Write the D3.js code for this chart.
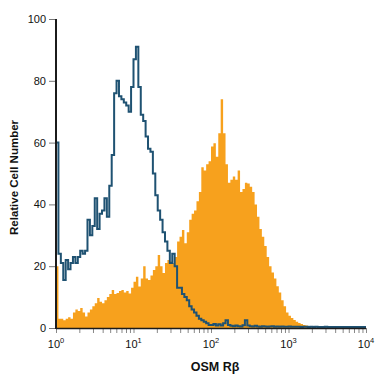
<!DOCTYPE html>
<html>
<head>
<meta charset="utf-8">
<script src="https://cdn.jsdelivr.net/npm/d3@7"></script>
<style>
  body { margin: 0; background: #fff; }
  svg { display: block; font-family: "Liberation Sans", Arial, sans-serif; }
</style>
</head>
<body>
<div id="chart"></div>
<script>
// channels are 1/32 of a decade wide, starting at 10^0
const channelsPerDecade = 32

// isotype control (outline)
const isotype = [60, 24, 21, 15.5, 22, 19, 21, 23, 21, 23,
    25, 24, 25, 35, 30, 33, 42, 32, 37, 38,
    42, 36, 46, 56, 76, 80, 75, 74, 73, 72,
    70, 78, 87, 91, 78, 69, 67, 62, 58, 57,
    50, 43, 38, 35, 31, 28, 25, 21, 24, 20,
    13, 13, 11, 10, 9, 7, 6, 5, 4, 3,
    2.5, 2, 1.5, 1, 1, 1.3, 0.8, 1.2, 0.8, 1.5,
    2.5, 1, 0.7, 0.6, 0.8, 0.6, 0.5, 0.9, 2.5, 0.8,
    0.6, 0.5, 0.7, 0.5, 0.4, 0.6, 0.5, 0.4, 0.5, 0.6,
    0.4, 0.5, 0.4, 0.5, 0.4, 0.4, 0.5, 0.4, 0.4, 0.4,
    0.4, 0.3, 0.4, 0.4, 0.3, 0.4, 0.3, 0.4, 0.3, 0.3,
    0.3, 0.4, 0.3, 0.3, 0.3, 0.3, 0.3, 0.3, 0.3, 0.3,
    0.3, 0.3, 0.3, 0.3, 0.3, 0.3, 0.3, 0.3]

// OSM R beta stained (filled)
const osmRb = [20, 3, 3, 2.5, 3, 3.5, 3, 5, 6, 5.5,
    6.5, 5, 3.7, 5, 6, 7, 8, 9.7, 8.5, 8,
    9, 10, 11, 12.3, 11, 11.3, 12, 12.3, 11.5, 12,
    11.2, 13, 15, 16.6, 13.4, 16, 20, 16, 15.5, 17,
    18.8, 20, 23.6, 20, 17.8, 21, 22, 21.5, 21, 23,
    28, 29.5, 31.7, 27.4, 31, 35, 37, 38, 41, 44,
    52, 51, 53, 54, 58.7, 59.8, 55.4, 63, 74, 63,
    53, 47, 48, 49, 48, 51, 44, 45, 47, 46.8,
    45.7, 44, 40, 36, 32, 29.5, 26.5, 23, 20, 18,
    16, 13.5, 11.5, 9, 7, 5, 4, 3.2, 2.6, 2,
    1.6, 1.3, 1, 0.8, 0.4, 0.2]

const yTicks = [0, 20, 40, 60, 80, 100]
const decades = [0, 1, 2, 3, 4]

const width = 375
const height = 375
const margin = { top: 19, right: 9, bottom: 47, left: 56 }

const svg = d3.select("#chart").append("svg")
    .attr("width", width)
    .attr("height", height)

const x = d3.scaleLog()
    .domain([1, 1e4])
    .range([margin.left, width - margin.right])

const y = d3.scaleLinear()
    .domain([0, 100])
    .range([height - margin.bottom, margin.top])

// turn a list of channel counts into step points (adds closing edge)
function steps(values) {
    const pts = values.map((v, i) => [Math.pow(10, i / channelsPerDecade), v])
    pts.push([Math.pow(10, values.length / channelsPerDecade), values[values.length - 1]])
    return pts
}

const area = d3.area()
    .x(d => x(d[0]))
    .y0(y(0))
    .y1(d => y(d[1]))
    .curve(d3.curveStepAfter)

const line = d3.line()
    .x(d => x(d[0]))
    .y(d => y(d[1]))
    .curve(d3.curveStepAfter)

svg.append("path")
    .datum(steps(osmRb))
    .attr("d", area)
    .attr("fill", "#f7a11d")

svg.append("path")
    .datum(steps(isotype))
    .attr("d", line)
    .attr("fill", "none")
    .attr("stroke", "#1f5272")
    .attr("stroke-width", 2)

// y axis
const yAxis = svg.append("g")
    .attr("transform", "translate(" + margin.left + ",0)")
    .call(d3.axisLeft(y).tickValues(yTicks).tickSize(7).tickPadding(3))

yAxis.select(".domain").remove()
yAxis.selectAll(".tick line").attr("stroke", "#777")
yAxis.selectAll(".tick text")
    .attr("font-size", 11)
    .attr("fill", "#111")
    .attr("font-family", "Liberation Sans, Arial, sans-serif")

// x axis, minor ticks at every integer multiple
const minorTicks = []
decades.slice(0, -1).forEach(d => {
    for (let m = 1; m < 10; m++) minorTicks.push(m * Math.pow(10, d))
})
minorTicks.push(1e4)

const xAxis = svg.append("g")
    .attr("transform", "translate(0," + (height - margin.bottom) + ")")
    .call(d3.axisBottom(x).tickValues(minorTicks).tickSize(5).tickFormat(""))

xAxis.select(".domain").remove()
xAxis.selectAll(".tick line").attr("stroke", "#888")

const decadeLabels = svg.append("g")
    .selectAll("text")
    .data(decades)
    .join("text")
    .attr("x", d => x(Math.pow(10, d)))
    .attr("y", height - margin.bottom + 20)
    .attr("text-anchor", "middle")
    .attr("font-size", 11)
    .attr("fill", "#111")

decadeLabels.append("tspan").text("10")
decadeLabels.append("tspan")
    .attr("dy", -5)
    .attr("font-size", 7.5)
    .text(d => d)

// axis lines drawn last, dark and heavy
svg.append("line")
    .attr("x1", margin.left).attr("x2", margin.left)
    .attr("y1", margin.top).attr("y2", height - margin.bottom + 1)
    .attr("stroke", "#1b1b1b")
    .attr("stroke-width", 2)

svg.append("line")
    .attr("x1", margin.left).attr("x2", width - margin.right)
    .attr("y1", height - margin.bottom + 0.5).attr("y2", height - margin.bottom + 0.5)
    .attr("stroke", "#1b1b1b")
    .attr("stroke-width", 1.5)

// titles
svg.append("text")
    .attr("transform", "translate(18," + ((margin.top + height - margin.bottom) / 2 + 4) + ") rotate(-90)")
    .attr("text-anchor", "middle")
    .attr("font-size", 11.5)
    .attr("font-weight", "bold")
    .attr("fill", "#111")
    .text("Relative Cell Number")

svg.append("text")
    .attr("x", (margin.left + width - margin.right) / 2 + 4)
    .attr("y", height - 4)
    .attr("text-anchor", "middle")
    .attr("font-size", 12.5)
    .attr("font-weight", "bold")
    .attr("fill", "#111")
    .text("OSM Rβ")
</script>
</body>
</html>
